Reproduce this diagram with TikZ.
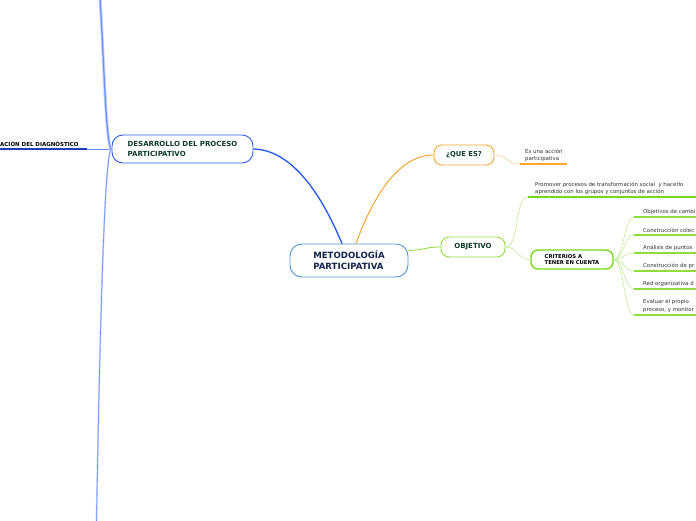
\documentclass[tikz,border=0pt]{standalone}
\usepackage{fontspec}
\setmainfont{DejaVu Sans}
\definecolor{navy}{HTML}{13244F}
\definecolor{dgreen}{HTML}{0E3B2C}
\definecolor{rootb}{HTML}{4C94D4}
\definecolor{blueb}{HTML}{2A5BEA}
\definecolor{blueln}{HTML}{2456F0}
\definecolor{bluelt}{HTML}{6C8EFF}
\definecolor{bluehalo}{HTML}{C5D3FF}
\definecolor{darkblu}{HTML}{1F3FC0}
\definecolor{orng}{HTML}{F7A632}
\definecolor{orngl}{HTML}{FAD08F}
\definecolor{grn}{HTML}{8FDD3D}
\definecolor{grnb}{HTML}{77D818}
\definecolor{grnl}{HTML}{C2EE96}
\begin{document}
\begin{tikzpicture}[x=1pt,y=-1pt,
  topic/.style={draw, line width=0.9pt, inner sep=0pt, align=left},
  rootbox/.style={topic, draw=rootb, rounded corners=12pt, text=navy,
     font=\bfseries\fontsize{8.6}{11}\selectfont, minimum width=118pt, minimum height=33pt},
  desbox/.style={topic, draw=blueb, rounded corners=11pt, text=dgreen,
     font=\bfseries\fontsize{7}{9.5}\selectfont, minimum width=141pt, minimum height=28pt},
  quebox/.style={topic, draw=orng, rounded corners=8pt, text=dgreen,
     font=\bfseries\fontsize{6.8}{8}\selectfont, minimum width=60pt, minimum height=20pt},
  objbox/.style={topic, draw=grn, rounded corners=8pt, text=dgreen,
     font=\bfseries\fontsize{7}{8}\selectfont, minimum width=64pt, minimum height=20pt},
  critbox/.style={topic, draw=grnb, line width=1.4pt, rounded corners=7pt, text=black,
     font=\bfseries\fontsize{5.3}{6.6}\selectfont, minimum width=82pt, minimum height=19pt},
  leaf/.style={anchor=south west, inner sep=0pt, align=left, text=black!80,
     font=\fontsize{5.4}{7.4}\selectfont},
  ul/.style={line width=1.3pt},
  conn/.style={line width=0.6pt}
]
\clip (0,0) rectangle (696,520);
\fill[white] (0,0) rectangle (696,520);

% main nodes
\node[rootbox] (root) at (349,260.5) {METODOLOGÍA\\PARTICIPATIVA};
\node[desbox] (des) at (182.5,149) {DESARROLLO DEL PROCESO\\PARTICIPATIVO};
\node[quebox] (que) at (464,155) {¿QUE ES?};
\node[objbox] (obj) at (473,247) {OBJETIVO};
\node[critbox] (crit) at (572,259.5) {CRITERIOS A\\TENER EN CUENTA};

% left side
\node[anchor=south west, inner sep=0pt, font=\bfseries\fontsize{5.5}{6}\selectfont, text=black]
  (diag) at (0,146.5) {ACIÓN DEL DIAGNÓSTICO};
\coordinate (diagE) at (87,149);
\draw[darkblu, ul] (-2,149) -- (diagE);
\draw[bluelt, conn] (des.west) -- (diagE);
\coordinate (topEnd) at (100,-2);
\coordinate (botEnd) at (96.5,522);
\draw[bluehalo, line width=3pt] (des.west) .. controls (106,149) and (104,60) .. (topEnd);
\draw[bluelt, line width=1.2pt] (des.west) .. controls (106,149) and (104,60) .. (topEnd);
\draw[bluehalo, line width=1.8pt] (des.west) .. controls (106,149) and (101,260) .. (botEnd);
\draw[bluelt, line width=0.6pt] (des.west) .. controls (106,149) and (101,260) .. (botEnd);

% root connectors
\draw[blueln, line width=1.3pt] ([xshift=-7pt]root.north) .. controls (330,215) and (300,150) .. (des.east);
\draw[orng, line width=1pt] ([xshift=7pt]root.north) .. controls (370,205) and (395,155) .. (que.west);
\draw[grn, line width=0.8pt] ([yshift=10pt]root.east) .. controls (425,250) and (425,247) .. (obj.west);

% que es leaf
\node[leaf] (es) at (525,162) {Es una acción\\participativa};
\coordinate (esS) at (520,164);
\draw[orngl, conn] (que.east) .. controls (508,155) and (506,164) .. (esS);
\draw[orng, ul] (esS) -- (567,164);

% objetivo leaf
\node[leaf] (prom) at (535,195) {Promover procesos de transformación social\ \ y hacerlo\\aprendido con los grupos y conjuntos de acción};
\coordinate (promS) at (528,197);
\draw[grnl, conn] (obj.east) .. controls (520,247) and (514,197) .. (promS);
\draw[grnb, ul] (promS) -- (700,197);
\draw[grnl, conn] (obj.east) .. controls (518,247) and (518,260) .. (crit.west);

% criterios leaves
\foreach \n/\y/\t in {c1/217/{Objetivos de cambi},
                      c2/235/{Construcción colec},
                      c3/253/{Análisis de puntos},
                      c4/271/{Construcción de pr},
                      c5/289/{Red organizativa d},
                      c6/315/{Evaluar el propio\\proceso, y monitor}} {
  \node[leaf] (\n) at (643,\y-2.5) {\t};
  \coordinate (\n S) at (634,\y);
  \draw[grnl, conn] (crit.east) .. controls (624,259.5) and (624,\y) .. (\n S);
  \draw[grn, ul] (\n S) -- (700,\y);
}
\end{tikzpicture}
\end{document}
